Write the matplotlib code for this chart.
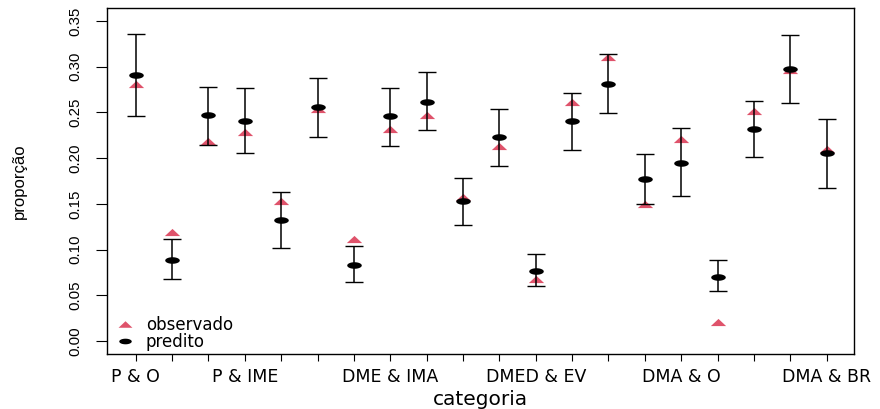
import numpy as np
import matplotlib.pyplot as plt
from matplotlib.path import Path
from matplotlib.lines import Line2D
from matplotlib import font_manager

# categories along x (only some names get printed)
x_labels = ['P & O', '', '', 'P & IME', '', '', '', 'DME & IMA', '', '', '',
            'DMED & EV', '', '', '', 'DMA & O', '', '', '', 'DMA & BR']

# observed proportions
observado = [0.2815, 0.1192, 0.2191, 0.2289, 0.1528, 0.2534, 0.1112, 0.2322, 0.2475, 0.1575,
             0.2133, 0.0682, 0.2618, 0.3103, 0.1502, 0.2209, 0.0211, 0.2519, 0.2964, 0.2103]
# predicted proportions with interval limits
predito = [0.2906, 0.0883, 0.2468, 0.2410, 0.1320, 0.2556, 0.0828, 0.2458, 0.2618, 0.1535,
           0.2235, 0.0762, 0.2406, 0.2811, 0.1775, 0.1947, 0.0700, 0.2319, 0.2972, 0.2056]
inferior = [0.2458, 0.0682, 0.2140, 0.2053, 0.1021, 0.2231, 0.0642, 0.2133, 0.2308, 0.1269,
            0.1914, 0.0598, 0.2089, 0.2490, 0.1502, 0.1583, 0.0544, 0.2009, 0.2606, 0.1673]
superior = [0.3361, 0.1112, 0.2775, 0.2764, 0.1633, 0.2873, 0.1036, 0.2764, 0.2946, 0.1786,
            0.2541, 0.0952, 0.2709, 0.3136, 0.2042, 0.2326, 0.0883, 0.2622, 0.3347, 0.2428]

y_ticks = [0.00, 0.05, 0.10, 0.15, 0.20, 0.25, 0.30, 0.35]

RED = '#DF536B'

# condensed face for the vertical texts if the system has one
installed = {f.name for f in font_manager.fontManager.ttflist}
if 'Liberation Sans Narrow' in installed:
    vfam, ytick_size, ylab_size = 'Liberation Sans Narrow', 12, 13
else:
    vfam, ytick_size, ylab_size = 'Liberation Sans', 10.8, 12

# wide, flat markers
t = np.linspace(0, 2 * np.pi, 40)
ellipse = Path(np.column_stack([np.cos(t), 0.45 * np.sin(t)]), closed=True)
triangle = Path([(-1, -0.47), (1, -0.47), (0, 0.47), (-1, -0.47)], closed=True)

x = np.arange(1, len(x_labels) + 1)
pred = np.array(predito)
lo = np.array(inferior)
hi = np.array(superior)

fig = plt.figure(figsize=(8.8, 4.09), dpi=100)
ax = fig.add_axes([0.122, 0.1345, 0.8488, 0.8459])

ax.plot(x, observado, linestyle='none', marker=triangle, markersize=11,
        color=RED, markeredgewidth=0, zorder=2)
ax.errorbar(x, pred, yerr=[pred - lo, hi - pred], fmt='none', ecolor='black',
            elinewidth=1.1, capsize=6.8, capthick=1.0, zorder=3)
ax.plot(x, pred, linestyle='none', marker=ellipse, markersize=10.5,
        color='black', markeredgewidth=0, zorder=4)

ax.set_xlim(0.22, 20.76)
ax.set_ylim(-0.0142, 0.3642)

ax.set_xticks(x)
ax.set_xticklabels(x_labels, fontsize=12.5)
ax.set_yticks(y_ticks)
ax.set_yticklabels([f'{v:.2f}' for v in y_ticks], rotation=90, va='center',
                   family=vfam, fontsize=ytick_size)
ax.tick_params(axis='x', length=5, width=0.8, pad=5)
ax.tick_params(axis='y', length=8, width=0.8, pad=10)

for s in ax.spines.values():
    s.set_linewidth(1.0)

ax.set_xlabel('categoria', fontsize=14.5)
ax.xaxis.set_label_coords(0.5, -0.105)
ax.set_ylabel('proporção', family=vfam, fontsize=ylab_size)
ax.yaxis.set_label_coords(-0.108, 0.5)

handles = [
    Line2D([], [], linestyle='none', marker=triangle, markersize=10, color=RED, markeredgewidth=0),
    Line2D([], [], linestyle='none', marker=ellipse, markersize=9, color='black', markeredgewidth=0),
]
ax.legend(handles, ['observado', 'predito'], loc='lower left', bbox_to_anchor=(0.0125, 0.010),
          frameon=False, fontsize=12, borderpad=0, borderaxespad=0, handlelength=1.0,
          handletextpad=0.75, labelspacing=-0.1)

fig.savefig('out.png', dpi=100)
